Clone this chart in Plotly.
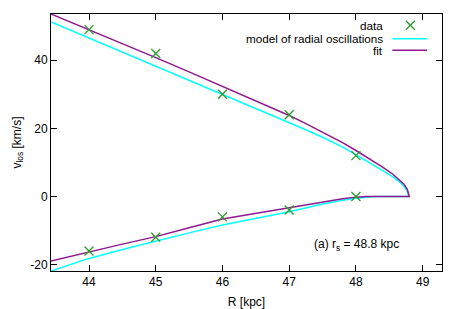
import plotly.graph_objects as go

# ---- data ----
data_R = [44, 45, 46, 47, 48, 44, 45, 46, 47, 48]
data_v = [49, 42, 30, 24, 12, -16, -12, -6, -4, 0]

# fit curve (upper branch to turning point, then lower branch back)
fit_R = [43.43, 44, 44.5, 45, 45.5, 46, 46.5, 47, 47.25, 47.5, 47.8, 48, 48.2, 48.4,
         48.55, 48.65, 48.72, 48.77, 48.8,
         48.15, 48.0, 47.8, 47.5, 47.0, 46.5, 46.0, 45.5, 45.0, 44.5, 44.0, 43.43]
fit_v = [53.6, 49.0, 44.9, 40.8, 36.6, 32.4, 28.1, 23.8, 21.4, 18.9, 15.8, 13.5, 11.1, 8.6,
         6.6, 5.0, 3.6, 2.1, 0.0,
         0.0, -0.2, -0.7, -1.7, -3.4, -5.0, -6.6, -9.2, -11.8, -14.0, -16.3, -19.0]

# model of radial oscillations
model_R = [43.43, 44, 44.5, 45, 45.5, 46, 46.5, 47, 47.25, 47.5, 47.8, 48, 48.2, 48.4,
           48.55, 48.65, 48.72, 48.77, 48.79,
           48.3, 48.2, 48.0, 47.8, 47.5, 47.0, 46.5, 46.0, 45.5, 45.0, 44.5, 44.0, 43.43]
model_v = [51.3, 46.6, 42.4, 38.3, 34.1, 29.9, 25.9, 21.8, 19.6, 17.4, 14.5, 12.3, 10.0, 7.7,
           5.8, 4.3, 3.0, 1.6, 0.0,
           0.0, -0.1, -0.5, -1.1, -2.2, -4.5, -6.4, -8.4, -10.7, -13.1, -15.6, -18.2, -21.9]

x_ticks = [44, 45, 46, 47, 48, 49]
x_ticklabels = ["44", "45", "46", "47", "48", "49"]
y_ticks = [-20, 0, 20, 40]
y_ticklabels = ["-20", "0", "20", "40"]

legend_labels = ["data", "model of radial oscillations", "fit"]

GREEN = "#2e9a2e"
CYAN = "#00ffff"
PURPLE = "#8e1a8e"
FONT = "Liberation Sans, Arial, sans-serif"

fig = go.Figure()
fig.add_trace(go.Scatter(x=model_R, y=model_v, mode="lines",
                         line=dict(color=CYAN, width=1.5), showlegend=False))
fig.add_trace(go.Scatter(x=fit_R, y=fit_v, mode="lines",
                         line=dict(color=PURPLE, width=1.5), showlegend=False))
fig.add_trace(go.Scatter(x=data_R, y=data_v, mode="markers",
                         marker=dict(symbol="x-thin", size=9, color=GREEN,
                                     line=dict(color=GREEN, width=1.3)),
                         showlegend=False))

# gnuplot-style key drawn on an overlay unit axis
ky = [0.956, 0.904, 0.859]
fig.add_trace(go.Scatter(x=[0.919], y=[ky[0]], xaxis="x2", yaxis="y2", mode="markers",
                         marker=dict(symbol="x-thin", size=9, color=GREEN,
                                     line=dict(color=GREEN, width=1.3)),
                         showlegend=False, hoverinfo="skip"))
fig.add_trace(go.Scatter(x=[0.873, 0.962], y=[ky[1], ky[1]], xaxis="x2", yaxis="y2",
                         mode="lines", line=dict(color=CYAN, width=1.5),
                         showlegend=False, hoverinfo="skip"))
fig.add_trace(go.Scatter(x=[0.873, 0.962], y=[ky[2], ky[2]], xaxis="x2", yaxis="y2",
                         mode="lines", line=dict(color=PURPLE, width=1.5),
                         showlegend=False, hoverinfo="skip"))
for lab, yy in zip(legend_labels, ky):
    fig.add_annotation(x=0.855, y=yy, xref="paper", yref="paper", text=lab,
                       showarrow=False, xanchor="right", yanchor="middle",
                       font=dict(family=FONT, size=11.7, color="#000"))

fig.add_annotation(x=0.668, y=0.10, xref="paper", yref="paper",
                   text="(a) r<sub>s</sub> = 48.8 kpc", showarrow=False,
                   xanchor="left", yanchor="middle",
                   font=dict(family=FONT, size=12, color="#000"))

axis_common = dict(showgrid=False, zeroline=False, showline=True, linecolor="black",
                   linewidth=1, mirror="ticks", ticks="inside", ticklen=6,
                   tickcolor="black", tickwidth=1, automargin=False,
                   tickfont=dict(family=FONT, size=12, color="#000"))

# the page body has an 8px default margin; size the figure to fit inside the window
fig.update_layout(
    width=455, height=301,
    margin=dict(l=43, r=21, t=6, b=38, autoexpand=False),
    paper_bgcolor="white", plot_bgcolor="white",
    font=dict(family=FONT, size=12, color="#000"),
    xaxis=dict(range=[43.43, 49.29], tickvals=x_ticks, ticktext=x_ticklabels,
               title=dict(text="R [kpc]", standoff=9, font=dict(family=FONT, size=12)),
               **axis_common),
    yaxis=dict(range=[-21.9, 53.6], tickvals=y_ticks, ticktext=y_ticklabels,
               title=dict(text="v<sub>los</sub> [km/s]", standoff=6,
                          font=dict(family=FONT, size=12)),
               **axis_common),
    xaxis2=dict(range=[0, 1], overlaying="x", visible=False),
    yaxis2=dict(range=[0, 1], overlaying="y", visible=False),
)

fig.write_html("out.html")
